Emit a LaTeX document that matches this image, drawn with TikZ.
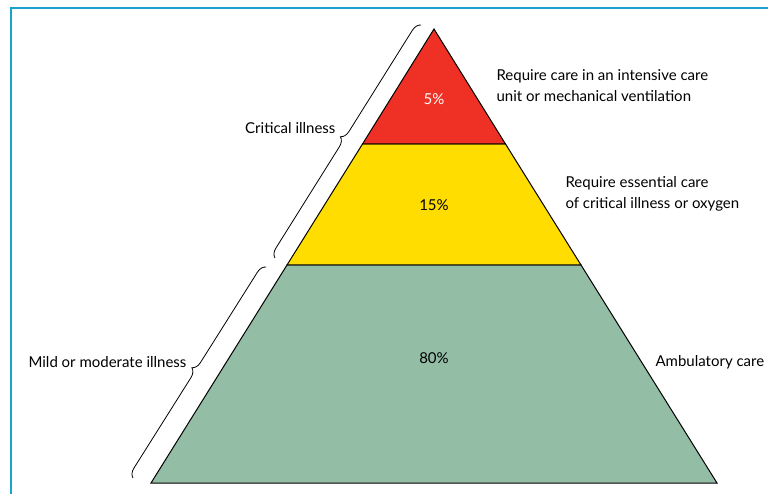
\documentclass[tikz,border=0pt]{standalone}
\usepackage{fontspec}
\setmainfont{Lato}
\usetikzlibrary{decorations.pathreplacing}
\definecolor{frameblue}{HTML}{1AA3CC}
\definecolor{icured}{HTML}{EE3124}
\definecolor{oxyellow}{HTML}{FFDD00}
\definecolor{mildgreen}{HTML}{93BDA5}

\begin{document}
\begin{tikzpicture}[x=1pt,y=-1pt,
    tier/.style={draw=black,line width=1pt,line join=miter},
    pct/.style={font=\fontsize{15}{17}\selectfont},
    care/.style={font=\fontsize{15}{21}\selectfont,align=left,anchor=west},
    bracket/.style={draw=black,line width=0.8pt,decorate,decoration={brace,amplitude=9pt}},
    group/.style={font=\fontsize{15}{17}\selectfont,anchor=east}]
        \useasboundingbox (0,0) rectangle (768,494);
        \draw[frameblue,line width=1.5pt] (11,494)--(11,8)--(768,8);

        % pyramid corners
        \coordinate (apex) at (434,29);
        \coordinate (rl) at (362.5,144);
        \coordinate (rr) at (505.5,144);
        \coordinate (yl) at (287,265);
        \coordinate (yr) at (581,265);
        \coordinate (gl) at (151,483);
        \coordinate (gr) at (717,483);

        \draw[tier,fill=mildgreen] (yl)--(yr)--(gr)--(gl)--cycle;
        \draw[tier,fill=oxyellow] (rl)--(rr)--(yr)--(yl)--cycle;
        \draw[tier,fill=icured] (apex)--(rr)--(rl)--cycle;

        \node[pct,white] (five) at (434,99) {5\%};
        \node[pct] (fifteen) at (434,205) {15\%};
        \node[pct] (eighty) at (434,358) {80\%};

        \node[care] (icu) at (493,86) {Require care in an intensive care\\unit or mechanical ventilation};
        \node[care] (ess) at (562,194) {Require essential care\\of critical illness or oxygen};
        \node[care] (amb) at (652,362) {Ambulatory care};

        % braces
        \coordinate (cb) at (275,258);
        \coordinate (ct) at (421,25);
        \coordinate (mb) at (133,478);
        \coordinate (mt) at (266,267);
        \draw[bracket] (cb)--(ct);
        \draw[bracket] (mb)--(mt);

        \node[group] (crit) at (339,128) {Critical illness};
        \node[group] (mild) at (190,362) {Mild or moderate illness};
      \end{tikzpicture}
\end{document}
